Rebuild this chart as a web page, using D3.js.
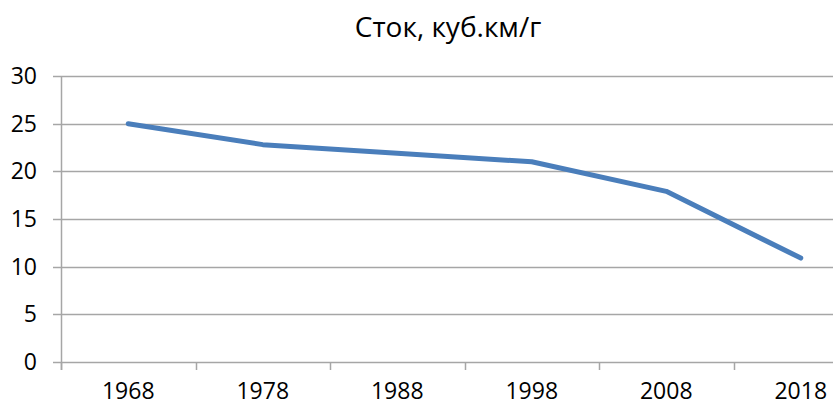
<!DOCTYPE html>
<html>
<head>
<meta charset="utf-8">
<script src="https://cdn.jsdelivr.net/npm/d3@7"></script>
<style>
  body { margin: 0; background: #fff; }
  svg { display: block; }
  text { font-family: "Open Sans", sans-serif; fill: #000; }
</style>
</head>
<body>
<script>
var years = ["1968", "1978", "1988", "1998", "2008", "2018"];
var flow = [25.0, 22.8, 21.9, 21.0, 17.9, 10.9];
var yTicks = [0, 5, 10, 15, 20, 25, 30];
var title = "Сток, куб.км/г";

var w = 833, h = 408;
// plot area runs past the right edge in the original picture
var plotLeft = 61, plotRight = 868, plotTop = 76, plotBottom = 362;

var svg = d3.select("body").append("svg")
  .attr("width", w)
  .attr("height", h);

var x = d3.scaleBand()
  .domain(years)
  .range([plotLeft, plotRight]);

var y = d3.scaleLinear()
  .domain([0, 30])
  .range([plotBottom, plotTop]);

// gridlines
svg.append("g")
  .selectAll("line")
  .data(yTicks)
  .enter()
  .append("line")
  .attr("x1", plotLeft - 8)
  .attr("x2", plotRight)
  .attr("y1", d => Math.round(y(d)) + 0.5)
  .attr("y2", d => Math.round(y(d)) + 0.5)
  .attr("stroke", "#a6a6a6")
  .attr("stroke-width", 1.5);

// y axis line
svg.append("line")
  .attr("x1", plotLeft + 0.5).attr("x2", plotLeft + 0.5)
  .attr("y1", plotTop).attr("y2", plotBottom + 8)
  .attr("stroke", "#a6a6a6")
  .attr("stroke-width", 1.5);

// x tick marks at band edges
var edges = years.map(d => x(d)).concat([plotRight]);
svg.append("g")
  .selectAll("line")
  .data(edges)
  .enter()
  .append("line")
  .attr("x1", d => Math.round(d) + 0.5)
  .attr("x2", d => Math.round(d) + 0.5)
  .attr("y1", plotBottom)
  .attr("y2", plotBottom + 8)
  .attr("stroke", "#a6a6a6")
  .attr("stroke-width", 1.5);

// y labels
svg.append("g")
  .selectAll("text")
  .data(yTicks)
  .enter()
  .append("text")
  .attr("x", plotLeft - 24)
  .attr("y", d => y(d))
  .attr("dy", "0.35em")
  .attr("text-anchor", "end")
  .style("font-size", "23px")
  .text(d => d);

// x labels
svg.append("g")
  .selectAll("text")
  .data(years)
  .enter()
  .append("text")
  .attr("x", d => x(d) + x.bandwidth() / 2)
  .attr("y", 399)
  .attr("text-anchor", "middle")
  .style("font-size", "23px")
  .text(d => d);

// the line
var line = d3.line()
  .x((d, i) => x(years[i]) + x.bandwidth() / 2)
  .y(d => y(d));

svg.append("path")
  .datum(flow)
  .attr("d", line)
  .attr("fill", "none")
  .attr("stroke", "#4a7ebb")
  .attr("stroke-width", 5)
  .attr("stroke-linejoin", "round")
  .attr("stroke-linecap", "round");

// title
svg.append("text")
  .attr("x", 448)
  .attr("y", 37)
  .attr("text-anchor", "middle")
  .style("font-size", "28px")
  .text(title);
</script>
</body>
</html>
